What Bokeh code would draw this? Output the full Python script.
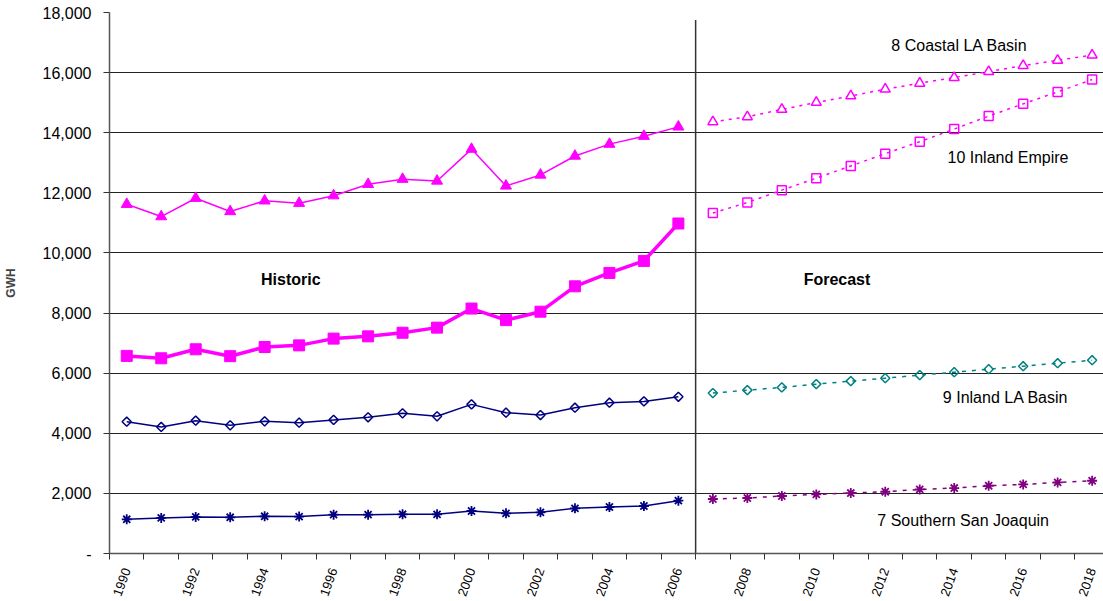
from bokeh.plotting import figure
from bokeh.models import FixedTicker, NumeralTickFormatter
from bokeh.core.properties import value
from bokeh.embed import file_html
from bokeh.resources import INLINE
import math

# ---- data ----
hist_years = list(range(1990, 2007))
fc_years = list(range(2007, 2019))

coastal_hist = [11620, 11210, 11820, 11380, 11735, 11655, 11905, 12285, 12455, 12395,
                13455, 12230, 12595, 13225, 13620, 13885, 14195]
empire_hist = [6575, 6495, 6795, 6565, 6870, 6925, 7150, 7225, 7345, 7515,
               8150, 7765, 8045, 8890, 9335, 9735, 10980]
inland_la_hist = [4385, 4210, 4420, 4265, 4398, 4353, 4445, 4532, 4664, 4564,
                  4962, 4685, 4608, 4851, 5016, 5061, 5215]
ssj_hist = [1138, 1183, 1216, 1205, 1238, 1227, 1293, 1293, 1305, 1304,
            1414, 1337, 1370, 1503, 1547, 1580, 1757]

coastal_fc = [14364, 14530, 14774, 15006, 15225, 15447, 15646, 15835, 16034, 16233, 16409, 16585]
empire_fc = [11327, 11679, 12089, 12487, 12895, 13303, 13701, 14122, 14553, 14961, 15359, 15769]
inland_la_fc = [5337, 5436, 5526, 5635, 5735, 5834, 5934, 6033, 6133, 6232, 6331, 6431]
ssj_fc = [1813, 1846, 1913, 1967, 2012, 2055, 2132, 2178, 2254, 2298, 2365, 2420]

y_ticks = list(range(0, 18001, 2000))
x_label_years = list(range(1990, 2019, 2))

series_labels = ["8 Coastal LA Basin", "10 Inland Empire", "9 Inland LA Basin", "7 Southern San Joaquin"]
period_labels = ["Historic", "Forecast"]

FONT = "Liberation Sans"
MAG = "#FF00FF"
NAVY = "#000080"
TEAL = "#008080"
PURP = "#800080"

p = figure(width=1103, height=601, output_backend="svg", toolbar_location=None,
           x_range=(1989.5, 2018.33), y_range=(0, 18000),
           min_border_left=109, min_border_right=0, min_border_top=12, min_border_bottom=46)
p.outline_line_color = None
p.background_fill_color = "white"
p.xgrid.grid_line_color = None
p.ygrid.grid_line_color = "#222222"
p.ygrid.grid_line_width = 1

# y axis
p.yaxis.ticker = FixedTicker(ticks=y_ticks)
p.yaxis.formatter = NumeralTickFormatter(format="0,0")
p.yaxis.major_label_overrides = {0: "-"}
p.yaxis.axis_label = "GWH"
p.yaxis.axis_label_text_font = FONT
p.yaxis.axis_label_text_font_style = "bold"
p.yaxis.axis_label_text_font_size = "12px"
p.yaxis.axis_label_standoff = 22
p.yaxis.major_label_text_font = FONT
p.yaxis.major_label_text_font_size = "16px"
p.yaxis.major_label_text_color = "black"
p.yaxis.major_tick_out = 6
p.yaxis.major_tick_in = 0
p.yaxis.major_label_standoff = 12
p.yaxis.minor_tick_line_color = None
p.yaxis.axis_line_color = "#555555"
p.yaxis.axis_line_width = 1.5
p.yaxis.major_tick_line_color = "#333333"

# x axis
p.xaxis.ticker = FixedTicker(ticks=x_label_years,
                             minor_ticks=[y - 0.5 for y in range(1990, 2020)])
p.xaxis.major_tick_line_color = None
p.xaxis.minor_tick_out = 6
p.xaxis.minor_tick_in = 0
p.xaxis.minor_tick_line_color = "#333333"
p.xaxis.major_label_orientation = 1.22
p.xaxis.major_label_text_font = FONT
p.xaxis.major_label_text_font_size = "13px"
p.xaxis.major_label_text_color = "black"
p.xaxis.major_label_standoff = 9
p.xaxis.axis_line_color = "#555555"
p.xaxis.axis_line_width = 1.5

# divider between historic and forecast
p.segment(x0=[2006.5], y0=[0], x1=[2006.5], y1=[17750], line_color="#333333", line_width=1.5)

# historic series
p.line(hist_years, coastal_hist, line_color=MAG, line_width=1.5)
p.scatter(hist_years, coastal_hist, marker="triangle", size=11, fill_color=MAG, line_color=MAG)

p.line(hist_years, empire_hist, line_color=MAG, line_width=3.5)
p.scatter(hist_years, empire_hist, marker="square", size=11, fill_color=MAG, line_color=MAG)

p.line(hist_years, inland_la_hist, line_color=NAVY, line_width=1.5)
p.scatter(hist_years, inland_la_hist, marker="square", angle=math.pi / 4, size=6.5,
          fill_color=None, line_color=NAVY, line_width=1.5)

p.line(hist_years, ssj_hist, line_color=NAVY, line_width=1.5)
p.scatter(hist_years, ssj_hist, marker="asterisk", size=10, line_color=NAVY, line_width=1.8)

# forecast series
p.line(fc_years, coastal_fc, line_color=MAG, line_width=1.5, line_dash="3 5")
p.scatter(fc_years, coastal_fc, marker="triangle", size=10, fill_color="white",
          line_color=MAG, line_width=1.5)

p.line(fc_years, empire_fc, line_color=MAG, line_width=1.5, line_dash="3 5")
p.scatter(fc_years, empire_fc, marker="square", size=9, fill_color=None,
          line_color=MAG, line_width=1.5)

p.line(fc_years, inland_la_fc, line_color=TEAL, line_width=1.5, line_dash="4 6")
p.scatter(fc_years, inland_la_fc, marker="square", angle=math.pi / 4, size=6.5,
          fill_color=None, line_color=TEAL, line_width=1.5)

p.line(fc_years, ssj_fc, line_color=PURP, line_width=1.5, line_dash="4 6")
p.scatter(fc_years, ssj_fc, marker="asterisk", size=10, line_color=PURP, line_width=1.8)

# annotations
p.text(x=[1994.76, 2010.6], y=[9116, 9116], text=period_labels,
       text_font=value(FONT), text_font_size="16px", text_font_style="bold",
       text_align="center", text_baseline="middle", text_color="black")

p.text(x=[2014.15, 2015.56, 2015.49, 2014.26], y=[16906, 13160, 5204, 1094], text=series_labels,
       text_font=value(FONT), text_font_size="16px",
       text_align="center", text_baseline="middle", text_color="black")

open("out.html", "w").write(file_html(p, INLINE))
